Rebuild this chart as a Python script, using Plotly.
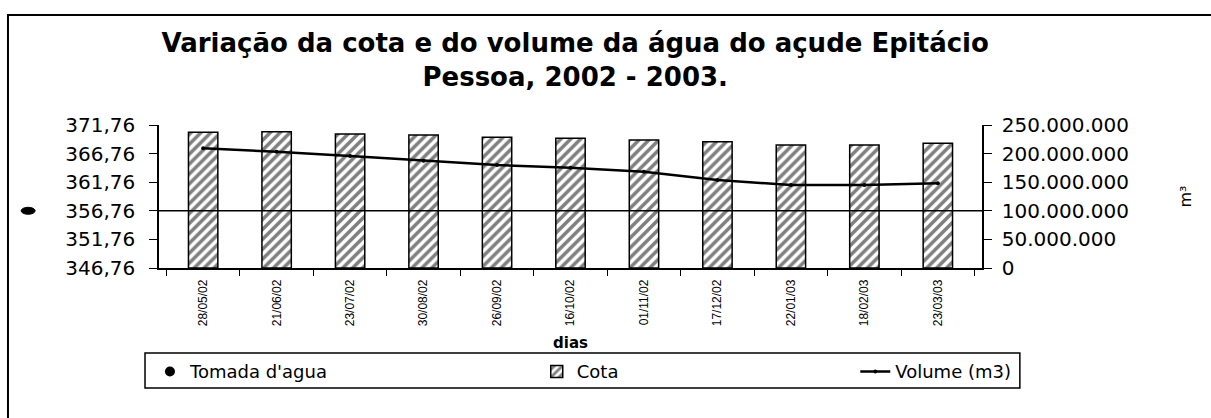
import plotly.graph_objects as go

CATEGORIES = ["28/05/02", "21/06/02", "23/07/02", "30/08/02", "26/09/02", "16/10/02",
              "01/11/02", "17/12/02", "22/01/03", "18/02/03", "23/03/03"]
COTA = [370.48, 370.59, 370.19, 370.01, 369.61, 369.43, 369.14, 368.84, 368.26, 368.26, 368.56]
VOLUME = [209.3e6, 203.3e6, 195.8e6, 187.6e6, 180.1e6, 175.3e6, 168.4e6, 153.8e6, 145.1e6, 145.1e6, 148.1e6]
TOMADA = 356.76
LEFT_RANGE = [346.76, 371.76]
RIGHT_RANGE = [0, 250e6]

FONT = "DejaVu Sans"

fig = go.Figure()

fig.add_trace(go.Scatter(
    x=[None], y=[None], name="Tomada d'agua", mode="markers", legend="legend",
    marker=dict(symbol="circle", size=10, color="black"),
))
fig.add_trace(go.Bar(
    x=CATEGORIES, y=[v - LEFT_RANGE[0] for v in COTA], base=LEFT_RANGE[0],
    name="Cota", legend="legend2",
    marker=dict(color="white", line=dict(color="black", width=1.5),
                pattern=dict(shape="/", fgcolor="black", bgcolor="white", size=7, solidity=0.5)),
    width=0.4,
))
fig.add_trace(go.Scatter(
    x=CATEGORIES, y=VOLUME, name="Volume (m3)", mode="lines+markers", yaxis="y2",
    legend="legend3",
    line=dict(color="black", width=2.5), marker=dict(size=4, color="black"),
))

fig.add_shape(type="line", xref="paper", yref="y", x0=0, x1=1, y0=TOMADA, y1=TOMADA,
              line=dict(color="black", width=1.5), layer="above")
fig.add_shape(type="circle", xref="paper", yref="y", xsizemode="pixel", ysizemode="pixel",
              xanchor=-0.159, yanchor=TOMADA, x0=-7, x1=7, y0=-3.5, y1=3.5,
              fillcolor="black", line=dict(color="black", width=1))
# outer frame
fig.add_shape(type="rect", xref="paper", yref="paper", x0=-0.1835, x1=1.35, y0=-1.2, y1=1.769,
              line=dict(color="black", width=2), layer="below")
# legend frame
fig.add_shape(type="rect", xref="paper", yref="paper", x0=-0.017, x1=1.046, y0=-0.839, y1=-0.594,
              line=dict(color="black", width=1.5), layer="above")

LEG = dict(orientation="h", xanchor="left", y=-0.596, yanchor="top",
           bgcolor="rgba(0,0,0,0)", borderwidth=0, font=dict(family=FONT, size=18))

fig.update_layout(
    width=1211, height=418,
    margin=dict(l=159, r=229, t=125, b=150, autoexpand=False),
    paper_bgcolor="white", plot_bgcolor="white",
    separators=",.",
    font=dict(family=FONT, color="black", size=17),
    showlegend=True,
    title=dict(
        text="<b>Variação da cota e do volume da água do açude Epitácio</b><br><b>Pessoa, 2002 - 2003.</b>",
        x=0.475, xanchor="center", xref="container", y=0.875, yanchor="top", yref="container",
        font=dict(family=FONT, size=26, color="black"),
    ),
    xaxis=dict(
        type="category", showline=True, linecolor="black", linewidth=1.5,
        ticks="outside", tickson="boundaries", ticklen=6, tickcolor="black",
        tickangle=-90, tickfont=dict(family="Liberation Sans", size=12), ticklabelstandoff=5,
        showgrid=False, zeroline=False,
        title=dict(text="<b>dias</b>", font=dict(family=FONT, size=15), standoff=12),
    ),
    yaxis=dict(
        range=LEFT_RANGE, tick0=LEFT_RANGE[0], dtick=5, tickformat=".2f",
        showline=True, linecolor="black", linewidth=1.5, ticks="outside", ticklen=8,
        tickcolor="black", showgrid=False, zeroline=False, ticklabelstandoff=10,
        tickfont=dict(family=FONT, size=20),
    ),
    yaxis2=dict(
        range=RIGHT_RANGE, tick0=0, dtick=50e6, tickformat=",.0f", overlaying="y", side="right",
        showline=True, linecolor="black", linewidth=1.5, ticks="outside", ticklen=8,
        tickcolor="black", showgrid=False, zeroline=False, ticklabelstandoff=6,
        tickfont=dict(family=FONT, size=20),
        title=dict(text="m³", font=dict(family=FONT, size=16), standoff=52),
    ),
    legend=dict(LEG, x=-0.011),
    legend2=dict(LEG, x=0.459),
    legend3=dict(LEG, x=0.846),
)

fig.write_html("out.html", config={"displayModeBar": False},
               post_script="document.body.style.margin='0';document.body.style.padding='0';")
